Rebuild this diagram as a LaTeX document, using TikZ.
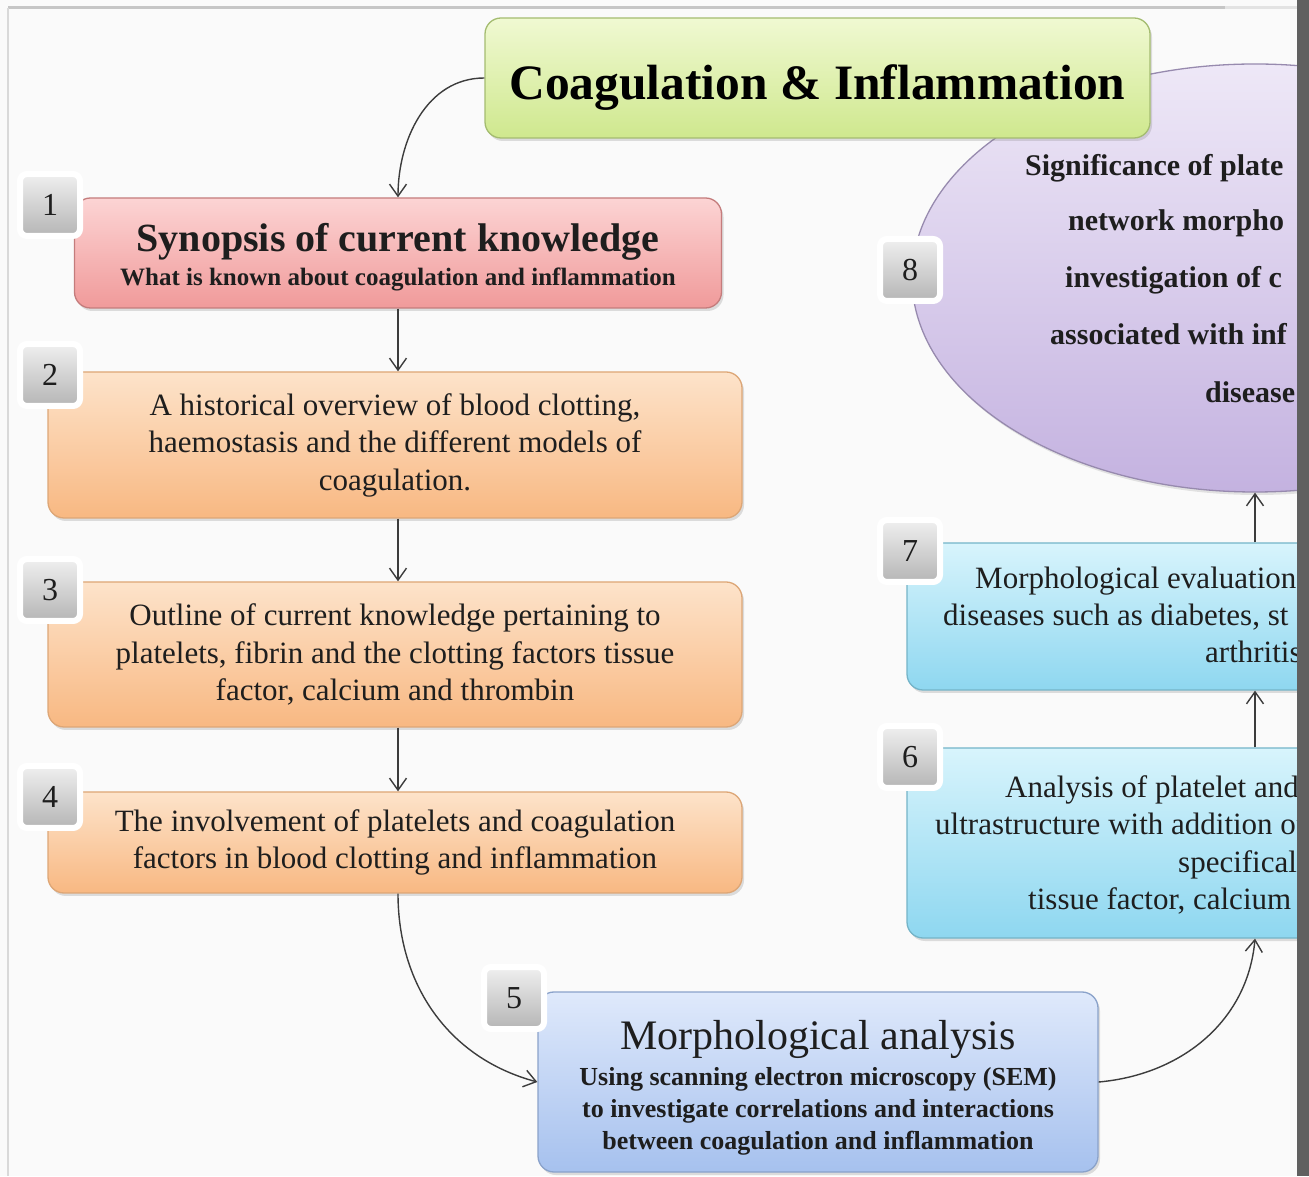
\documentclass[tikz,border=0pt]{standalone}
\usepackage{fontspec}
\setmainfont{Liberation Serif}
\usepackage{xcolor}
\usetikzlibrary{arrows.meta,shadows,shapes.geometric}

\definecolor{inkc}{HTML}{1E1E1E}
\definecolor{linec}{HTML}{3C3C3C}
\definecolor{titletop}{HTML}{F0F9D2}
\definecolor{titlebot}{HTML}{CFE88E}
\definecolor{titleline}{HTML}{A4BC70}
\definecolor{pinktop}{HTML}{FCD4D4}
\definecolor{pinkbot}{HTML}{F09A9A}
\definecolor{pinkline}{HTML}{C47C7C}
\definecolor{orangetop}{HTML}{FDE3CA}
\definecolor{orangebot}{HTML}{F8B882}
\definecolor{orangeline}{HTML}{DDA676}
\definecolor{bluetop}{HTML}{DFE9FB}
\definecolor{bluebot}{HTML}{A6C1EE}
\definecolor{blueline}{HTML}{8AA2CA}
\definecolor{cyantop}{HTML}{D8F4FC}
\definecolor{cyanbot}{HTML}{8ED7F0}
\definecolor{cyanline}{HTML}{74B4C8}
\definecolor{purpletop}{HTML}{EEE8F7}
\definecolor{purplebot}{HTML}{C4B2E0}
\definecolor{purpleline}{HTML}{978AAE}

\begin{document}
\begin{tikzpicture}[x=1pt,y=1pt,
  box/.style={rounded corners=16pt, line width=1.3pt, inner sep=0pt, align=center,
    text=inkc, drop shadow={opacity=0.25,shadow xshift=2pt,shadow yshift=-3pt}},
  bodyfont/.style={font=\fontsize{31}{37.5}\selectfont},
  badge/.style={rounded corners=7pt, draw=white, line width=6pt, inner sep=0pt,
    top color=gray!12, bottom color=gray!58, minimum width=60pt, minimum height=62pt,
    text=inkc, font=\fontsize{32}{32}\selectfont,
    drop shadow={opacity=0.3,shadow xshift=1pt,shadow yshift=-1pt}},
  ftext/.style={anchor=west, inner sep=0pt, text=inkc, text height=0.7em, text depth=0.22em},
  link/.style={draw=linec, line width=1.4pt, -{Straight Barb[length=12pt,width=17pt]}}
]
\useasboundingbox (0,0) rectangle (1309,1176);
\fill[white!98!black] (0,0) rectangle (1309,1176);

% Frame
\draw[gray!45, line width=3pt] (8,1168) -- (1225,1168);
\draw[gray!22, line width=3pt] (1225,1168) -- (1297,1168);
\draw[gray!30, line width=1.5pt] (8,1168) -- (8,0);

\begin{scope}
\clip (0,0) rectangle (1297,1176);

% Step 8: ellipse
\node[ellipse, draw=purpleline, line width=1.3pt, top color=purpletop, bottom color=purplebot,
  minimum width=686pt, minimum height=428pt, inner sep=0pt,
  drop shadow={opacity=0.2,shadow xshift=2pt,shadow yshift=-3pt}] (sig) at (1255,898) {};
\node[ftext, font=\fontsize{30}{30}\selectfont\bfseries] (sig1) at (1025,1003) {Significance of plate};
\node[ftext, font=\fontsize{30}{30}\selectfont\bfseries] (sig2) at (1068,948) {network morpho};
\node[ftext, font=\fontsize{30}{30}\selectfont\bfseries] (sig3) at (1065,891) {investigation of c};
\node[ftext, font=\fontsize{30}{30}\selectfont\bfseries] (sig4) at (1050,834) {associated with inf};
\node[ftext, font=\fontsize{30}{30}\selectfont\bfseries] (sig5) at (1205,776) {disease};

% Title
\node[box, draw=titleline, top color=titletop, bottom color=titlebot,
  minimum width=665pt, minimum height=120pt, text height=44pt, text depth=0pt,
  font=\fontsize{49.5}{49.5}\selectfont\bfseries, text=black] (title) at (817.5,1098)
  {Coagulation \& Inflammation};

% Step 1
\node[box, draw=pinkline, top color=pinktop, bottom color=pinkbot,
  minimum width=647pt, minimum height=110pt,
  font=\fontsize{25}{34}\selectfont\bfseries] (syn) at (398,923)
  {{\fontsize{40}{40}\selectfont\rule{0pt}{37pt}Synopsis of current knowledge}\\What is known about coagulation and inflammation};

% Step 2
\node[box, bodyfont, draw=orangeline, top color=orangetop, bottom color=orangebot,
  minimum width=694pt, minimum height=146pt] (hist) at (395,731)
  {A historical overview of blood clotting,\\haemostasis and the different models of\\coagulation.};

% Step 3
\node[box, bodyfont, draw=orangeline, top color=orangetop, bottom color=orangebot,
  minimum width=694pt, minimum height=145pt] (outl) at (395,521.5)
  {Outline of current knowledge pertaining to\\platelets, fibrin and the clotting factors tissue\\factor, calcium and thrombin};

% Step 4
\node[box, bodyfont, draw=orangeline, top color=orangetop, bottom color=orangebot,
  minimum width=694pt, minimum height=101pt] (invo) at (395,333.5)
  {The involvement of platelets and coagulation\\factors in blood clotting and inflammation};

% Step 5
\node[box, draw=blueline, top color=bluetop, bottom color=bluebot,
  minimum width=560pt, minimum height=180pt,
  font=\fontsize{26}{32}\selectfont\bfseries] (morph) at (818,94)
  {{\fontsize{42}{42}\selectfont\mdseries\rule{0pt}{40pt}Morphological analysis}\\[4pt]Using scanning electron microscopy (SEM)\\to investigate correlations and interactions\\between coagulation and inflammation};

% Step 6
\node[box, draw=cyanline, top color=cyantop, bottom color=cyanbot,
  minimum width=696pt, minimum height=190pt] (anal) at (1255,333) {};
\node[ftext, bodyfont] (anal1) at (1005,381) {Analysis of platelet and};
\node[ftext, bodyfont] (anal2) at (935,344) {ultrastructure with addition of};
\node[ftext, bodyfont] (anal3) at (1178,306) {specifical};
\node[ftext, bodyfont] (anal4) at (1028,269) {tissue factor, calcium};

% Step 7
\node[box, draw=cyanline, top color=cyantop, bottom color=cyanbot,
  minimum width=696pt, minimum height=147pt] (eval) at (1255,559.5) {};
\node[ftext, bodyfont] (eval1) at (975,590) {Morphological evaluation};
\node[ftext, bodyfont] (eval2) at (943,553) {diseases such as diabetes, st};
\node[ftext, bodyfont] (eval3) at (1205,516) {arthritis};

% Connectors
\draw[link] (title.west) to[out=180,in=90] (syn.north);
\draw[link] (syn.south) -- (syn.south |- hist.north);
\draw[link] (syn.south |- hist.south) -- (syn.south |- outl.north);
\draw[link] (syn.south |- outl.south) -- (syn.south |- invo.north);
\draw[link] (syn.south |- invo.south) to[out=-90,in=165] (morph.west);
\draw[link] (morph.east) to[out=5,in=-95] (anal.south);
\draw[link] (anal.north) -- (eval.south);
\draw[link] (eval.north) -- (sig.south);

% Number badges
\node[badge] (b1) at (50,971) {1};
\node[badge] (b2) at (50,801) {2};
\node[badge] (b3) at (50,586) {3};
\node[badge] (b4) at (50,379) {4};
\node[badge] (b5) at (514,178) {5};
\node[badge] (b6) at (910,419) {6};
\node[badge] (b7) at (910,625) {7};
\node[badge] (b8) at (910,906) {8};
\end{scope}

% Right bar
\fill[gray!75!black] (1297,0) rectangle (1309,1176);
\end{tikzpicture}
\end{document}
